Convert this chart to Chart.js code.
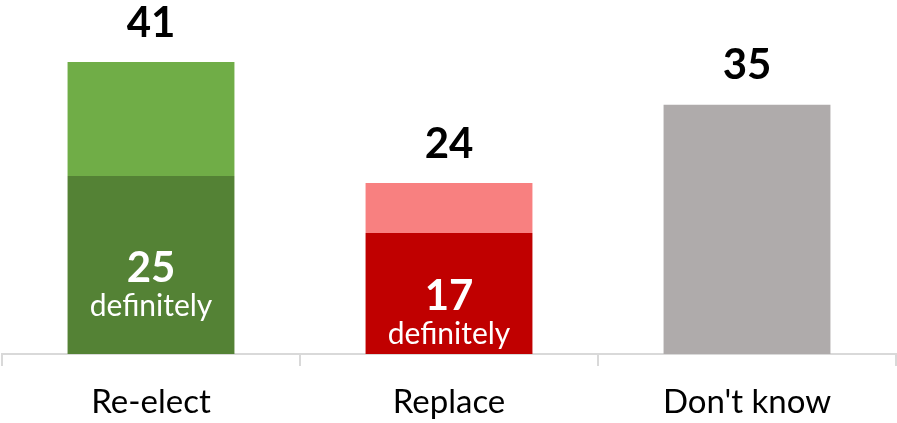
<!DOCTYPE html>
<html>
<head>
<meta charset="utf-8">
<script src="https://cdn.jsdelivr.net/npm/chart.js@4.4.0/dist/chart.umd.min.js"></script>
<style>
html,body{margin:0;padding:0;background:#fff;}
#wrap{width:897px;height:423px;position:relative;}
</style>
</head>
<body>
<div id="wrap"><canvas id="c" width="897" height="423"></canvas></div>
<script>
const categories = ["Re-elect", "Replace", "Don't know"];
const definitelyValues = [25, 17, 35];
const probablyValues = [16, 7, 0];
const totals = [41, 24, 35];
const innerLabels = ["25", "17", null];
const innerSubLabel = "definitely";

const FONT = "Lato, 'Open Sans', sans-serif";

const labelPlugin = {
  id: 'labels',
  afterDatasetsDraw(chart) {
    const ctx = chart.ctx;
    const top0 = chart.getDatasetMeta(0);
    const top1 = chart.getDatasetMeta(1);
    ctx.save();
    ctx.textAlign = 'center';
    ctx.textBaseline = 'middle';
    categories.forEach((c, i) => {
      const b0 = top0.data[i];
      const b1 = top1.data[i];
      const topY = probablyValues[i] > 0 ? b1.y : b0.y;
      ctx.fillStyle = '#000';
      ctx.font = "bold 42px " + FONT;
      ctx.fillText(String(totals[i]), b0.x, topY - 39);
      if (innerLabels[i]) {
        const mid = (b0.y + b0.base) / 2;
        ctx.fillStyle = '#fff';
        ctx.font = "bold 42px " + FONT;
        ctx.fillText(innerLabels[i], b0.x, mid + 3);
        ctx.font = "30px " + FONT;
        ctx.fillText(innerSubLabel, b0.x, mid + 41);
      }
    });
    ctx.restore();
  }
};

new Chart(document.getElementById('c'), {
  type: 'bar',
  data: {
    labels: categories,
    datasets: [
      {
        data: definitelyValues,
        backgroundColor: ['#548235', '#C00000', '#AFABAB'],
        barPercentage: 0.56, categoryPercentage: 1.0
      },
      {
        data: probablyValues,
        backgroundColor: ['#70AD47', '#F88080', '#AFABAB'],
        barPercentage: 0.56, categoryPercentage: 1.0
      }
    ]
  },
  options: {
    responsive: false,
    animation: false,
    devicePixelRatio: 1,
    layout: { padding: { left: 2, right: 1, top: 0, bottom: 0 } },
    plugins: { legend: { display: false }, tooltip: { enabled: false } },
    scales: {
      x: {
        stacked: true,
        afterFit: (s) => { s.height = 69; },
        grid: { display: true, drawOnChartArea: false, drawTicks: true, tickLength: 12, color: '#D9D9D9', lineWidth: 2, offset: true },
        border: { display: true, color: '#D9D9D9', width: 2 },
        ticks: { color: '#000', font: { family: FONT, size: 33 }, padding: 17 }
      },
      y: {
        stacked: true,
        display: false,
        min: 0,
        max: 49.7
      }
    }
  },
  plugins: [labelPlugin]
});
</script>
</body>
</html>
